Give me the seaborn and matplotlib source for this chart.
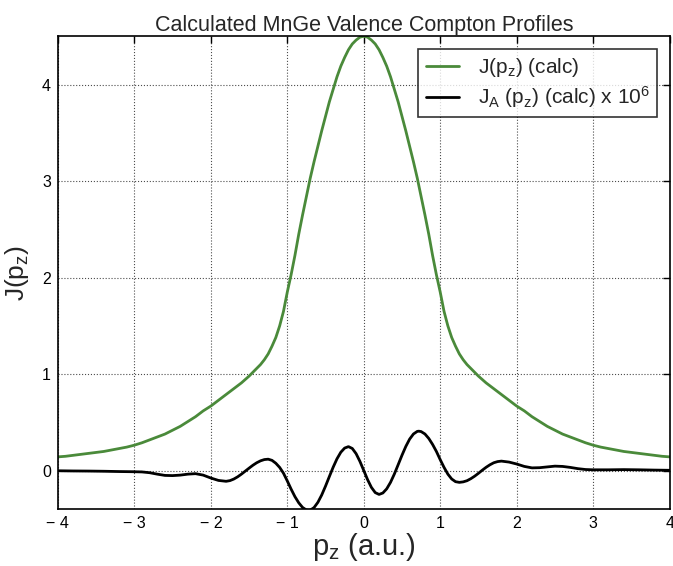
import numpy as np
import pandas as pd
import matplotlib
matplotlib.use("Agg")
import matplotlib.pyplot as plt
import seaborn as sns

# J(pz) calc (symmetric about 0), positive half
pz_j = [0.0, 0.05, 0.1, 0.15, 0.2, 0.25, 0.3, 0.35, 0.4, 0.45,
        0.5, 0.55, 0.6, 0.65, 0.7, 0.75, 0.8, 0.85, 0.9, 0.95,
        1.0, 1.05, 1.1, 1.15, 1.2, 1.25, 1.3, 1.35, 1.4, 1.45,
        1.5, 1.6, 1.7, 1.8, 1.9, 2.0, 2.1, 2.2, 2.3, 2.4,
        2.5, 2.6, 2.7, 2.8, 2.9, 3.0, 3.1, 3.2, 3.3, 3.4,
        3.5, 3.6, 3.7, 3.8, 3.9, 4.0]
j_half = [4.50, 4.49, 4.46, 4.42, 4.36, 4.28, 4.19, 4.08, 3.95, 3.82,
          3.67, 3.52, 3.36, 3.20, 3.03, 2.84, 2.65, 2.45, 2.23, 2.03,
          1.85, 1.65, 1.50, 1.38, 1.29, 1.21, 1.15, 1.10, 1.06, 1.02,
          0.98, 0.91, 0.85, 0.79, 0.73, 0.67, 0.62, 0.56, 0.51, 0.46,
          0.42, 0.38, 0.35, 0.32, 0.29, 0.265, 0.245, 0.23, 0.215, 0.20,
          0.19, 0.18, 0.17, 0.16, 0.15, 0.144]

# J_A(pz) calc x 1e6
pz_a = [-4.0, -3.8, -3.6, -3.4, -3.2, -3.0, -2.9, -2.8, -2.7, -2.6,
        -2.5, -2.4, -2.3, -2.2, -2.1, -2.0, -1.9, -1.8, -1.75, -1.7,
        -1.65, -1.6, -1.55, -1.5, -1.45, -1.4, -1.35, -1.3, -1.25, -1.2,
        -1.15, -1.1, -1.05, -1.0, -0.95, -0.9, -0.85, -0.8, -0.75, -0.72,
        -0.7, -0.65, -0.6, -0.55, -0.5, -0.45, -0.4, -0.35, -0.3, -0.25,
        -0.2, -0.15, -0.1, -0.05, 0.0, 0.05, 0.1, 0.15, 0.2, 0.25,
        0.3, 0.35, 0.4, 0.45, 0.5, 0.55, 0.6, 0.65, 0.7, 0.72,
        0.75, 0.8, 0.85, 0.9, 0.95, 1.0, 1.05, 1.1, 1.15, 1.2,
        1.25, 1.3, 1.35, 1.4, 1.45, 1.5, 1.55, 1.6, 1.65, 1.7,
        1.75, 1.8, 1.9, 2.0, 2.1, 2.2, 2.3, 2.4, 2.5, 2.6,
        2.7, 2.8, 2.9, 3.0, 3.2, 3.4, 3.6, 3.8, 4.0]
ja = [0.0, -0.002, -0.003, -0.005, -0.008, -0.01, -0.012, -0.02, -0.035, -0.048,
      -0.05, -0.045, -0.035, -0.03, -0.045, -0.075, -0.10, -0.109, -0.102, -0.086,
      -0.063, -0.035, -0.004, 0.027, 0.057, 0.083, 0.103, 0.116, 0.12, 0.108,
      0.078, 0.035, -0.025, -0.105, -0.19, -0.268, -0.332, -0.38, -0.406, -0.41,
      -0.408, -0.381, -0.327, -0.251, -0.159, -0.06, 0.037, 0.124, 0.192, 0.235,
      0.25, 0.231, 0.177, 0.097, 0.003, -0.092, -0.172, -0.226, -0.245, -0.23,
      -0.187, -0.12, -0.034, 0.063, 0.161, 0.252, 0.328, 0.381, 0.408, 0.41,
      0.406, 0.381, 0.335, 0.273, 0.20, 0.115, 0.035, -0.035, -0.085, -0.113,
      -0.12, -0.115, -0.103, -0.082, -0.056, -0.026, 0.006, 0.036, 0.062, 0.083,
      0.095, 0.10, 0.09, 0.07, 0.045, 0.03, 0.032, 0.04, 0.048, 0.045,
      0.035, 0.022, 0.013, 0.01, 0.01, 0.012, 0.01, 0.007, 0.005]

xticks = [-4, -3, -2, -1, 0, 1, 2, 3, 4]
xlabels = ["\u2212 4", "\u2212 3", "\u2212 2", "\u2212 1", "0", "1", "2", "3", "4"]
yticks = [0, 1, 2, 3, 4]

# mirror the half profile
pz_full = [-p for p in pz_j[::-1]] + pz_j[1:]
j_full = j_half[::-1] + j_half[1:]
df_j = pd.DataFrame({"pz": pz_full, "J": j_full})
df_a = pd.DataFrame({"pz": pz_a, "JA": ja})

sns.set_style("white")
plt.rcParams['font.family'] = ['Liberation Sans', 'DejaVu Sans']
plt.rcParams['mathtext.default'] = 'regular'

fig = plt.figure(figsize=(6.73, 5.66), dpi=100)
ax = fig.add_axes([0.086, 0.100, 0.909, 0.836])

sns.lineplot(data=df_j, x="pz", y="J", ax=ax, color="#4a8a3a", lw=2,
             label="J(p$_z$) (calc)")
sns.lineplot(data=df_a, x="pz", y="JA", ax=ax, color="black", lw=2,
             label="J$_A$ (p$_z$) (calc) x 10$^6$")

ax.set_xlim(-4, 4)
ax.set_ylim(-0.4, 4.5)
ax.set_xticks(xticks)
ax.set_xticklabels(xlabels)
ax.set_yticks(yticks)
ax.tick_params(direction="in", top=True, right=True, length=5, width=1,
               labelsize=11.5, colors="black", pad=5)
ax.grid(True, linestyle=":", color="black", lw=0.8, alpha=0.7)
for s in ax.spines.values():
    s.set_color("black")
    s.set_linewidth(1.2)

ax.set_title("Calculated MnGe Valence Compton Profiles", fontsize=15.5, pad=4)
ax.set_xlabel("p$_z$ (a.u.)", fontsize=21, labelpad=0)
ax.set_ylabel("J(p$_z$)", fontsize=19, labelpad=8)

leg = ax.legend(loc="upper right", fontsize=15, frameon=True, fancybox=False,
                handlelength=1.6, handletextpad=0.9, borderpad=0.35,
                labelspacing=0.25, borderaxespad=0.6)
leg.get_frame().set_edgecolor("black")
leg.get_frame().set_linewidth(1.2)

fig.savefig("out.png", dpi=100)
